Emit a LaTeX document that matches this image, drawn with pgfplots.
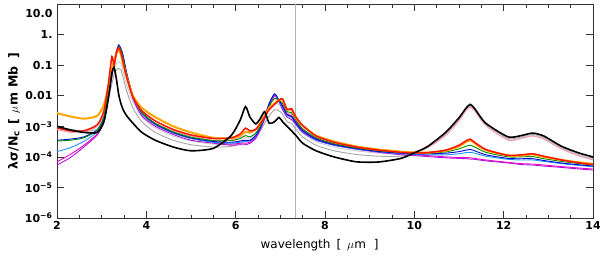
\documentclass[border=0pt]{standalone}
\usepackage{fontspec}
\setmainfont{DejaVu Sans}
\usepackage{pgfplots}
\usepackage{pgfplotstable}
\pgfplotsset{compat=1.18}

\definecolor{cOr}{RGB}{255,165,0}
\definecolor{cRd}{RGB}{255,20,0}
\definecolor{cPk}{RGB}{250,150,170}
\definecolor{cMg}{RGB}{235,0,200}
\definecolor{cPu}{RGB}{170,20,220}
\definecolor{cBl}{RGB}{0,0,220}
\definecolor{cLb}{RGB}{30,150,255}
\definecolor{cGn}{RGB}{0,140,0}
\definecolor{cGr}{RGB}{165,165,165}
\definecolor{cLg}{RGB}{205,205,205}

\pgfplotstableread{
x bk gr lg or rd pk mg pu bl lb gn
2.0 1.0e-3 9.5e-4 8.9e-4 2.7e-3 8.9e-4 7.9e-4 6.9e-5 5.4e-5 3.5e-4 1.48e-4 3.3e-4
2.3 7.6e-4 7.9e-4 7.1e-4 2.1e-3 7.1e-4 6.3e-4 1.2e-4 9.5e-5 3.8e-4 2.0e-4 3.5e-4
2.6 6.3e-4 7.1e-4 6.6e-4 1.78e-3 7.1e-4 6.3e-4 2.4e-4 2.1e-4 4.5e-4 3.2e-4 4.2e-4
2.9 6.3e-4 7.9e-4 7.9e-4 2.2e-3 1.12e-3 1.0e-3 5.6e-4 5.2e-4 7.6e-4 6.6e-4 7.4e-4
3.05 1.41e-3 2.0e-3 2.2e-3 5.0e-3 3.2e-3 2.5e-3 1.58e-3 1.41e-3 2.0e-3 1.78e-3 2.0e-3
3.15 7.9e-3 7.9e-3 1.0e-2 2.0e-2 2.5e-2 1.26e-2 1.0e-2 8.9e-3 1.12e-2 1.05e-2 1.26e-2
3.23 5.6e-2 2.5e-2 3.5e-2 7.9e-2 0.19 6.3e-2 5.0e-2 4.5e-2 5.6e-2 5.2e-2 6.3e-2
3.28 8.3e-2 5.0e-2 7.9e-2 0.14 0.1 0.126 0.126 0.12 0.13 0.126 0.14
3.33 3.5e-2 7.1e-2 0.11 0.25 0.25 0.22 0.25 0.24 0.28 0.27 0.28
3.38 1.12e-2 7.9e-2 0.13 0.32 0.38 0.32 0.38 0.35 0.46 0.42 0.4
3.43 5.6e-3 7.1e-2 0.11 0.22 0.26 0.28 0.32 0.32 0.35 0.34 0.32
3.48 3.5e-3 4.0e-2 6.3e-2 0.11 0.126 0.14 0.18 0.17 0.21 0.19 0.18
3.56 2.2e-3 1.41e-2 2.2e-2 4.0e-2 4.0e-2 4.5e-2 5.0e-2 4.5e-2 5.6e-2 5.2e-2 5.0e-2
3.7 1.26e-3 4.0e-3 6.3e-3 1.0e-2 9.0e-3 9.0e-3 9.0e-3 8.0e-3 1.0e-2 9.5e-3 9.5e-3
3.9 6.3e-4 1.41e-3 2.0e-3 4.0e-3 3.2e-3 2.8e-3 2.5e-3 2.2e-3 2.8e-3 2.6e-3 2.8e-3
4.2 3.5e-4 6.3e-4 8.9e-4 2.0e-3 1.5e-3 1.26e-3 1.12e-3 1.0e-3 1.2e-3 1.15e-3 1.26e-3
4.6 2.1e-4 3.5e-4 4.8e-4 1.0e-3 7.9e-4 7.1e-4 6.0e-4 5.4e-4 6.3e-4 6.0e-4 6.6e-4
5.0 1.58e-4 2.5e-4 3.3e-4 6.3e-4 5.2e-4 4.8e-4 4.0e-4 3.5e-4 4.2e-4 4.0e-4 4.4e-4
5.5 1.9e-4 2.1e-4 2.6e-4 4.2e-4 4.0e-4 3.5e-4 3.0e-4 2.8e-4 3.2e-4 3.0e-4 3.4e-4
5.9 5.0e-4 2.2e-4 2.6e-4 4.0e-4 4.2e-4 3.5e-4 2.6e-4 2.4e-4 3.0e-4 2.8e-4 3.4e-4
6.1 1.58e-3 2.8e-4 3.3e-4 5.0e-4 5.6e-4 4.5e-4 2.8e-4 2.5e-4 3.3e-4 3.0e-4 4.0e-4
6.22 4.4e-3 3.5e-4 4.4e-4 6.6e-4 8.7e-4 6.3e-4 2.8e-4 2.5e-4 3.5e-4 3.2e-4 5.0e-4
6.32 2.0e-3 3.5e-4 4.2e-4 6.3e-4 7.1e-4 6.0e-4 3.0e-4 2.8e-4 3.5e-4 3.3e-4 4.5e-4
6.45 1.2e-3 4.5e-4 5.6e-4 7.9e-4 7.9e-4 7.9e-4 4.5e-4 4.0e-4 5.0e-4 4.7e-4 6.0e-4
6.55 1.78e-3 7.1e-4 9.5e-4 1.26e-3 1.2e-3 1.41e-3 7.9e-4 7.6e-4 8.9e-4 8.5e-4 1.0e-3
6.65 3.0e-3 1.26e-3 1.9e-3 2.2e-3 2.0e-3 2.8e-3 1.78e-3 1.78e-3 2.0e-3 1.9e-3 2.0e-3
6.75 1.26e-3 2.2e-3 3.5e-3 4.0e-3 3.5e-3 5.0e-3 4.5e-3 5.0e-3 5.6e-3 5.4e-3 4.5e-3
6.87 1.41e-3 3.5e-3 5.6e-3 5.6e-3 5.2e-3 7.6e-3 1.0e-2 1.05e-2 1.15e-2 1.1e-2 8.3e-3
6.97 1.95e-3 3.2e-3 5.0e-3 7.1e-3 7.1e-3 6.3e-3 7.1e-3 6.3e-3 7.1e-3 6.8e-3 7.1e-3
7.05 1.41e-3 2.5e-3 3.8e-3 7.6e-3 7.9e-3 5.0e-3 4.5e-3 3.5e-3 4.5e-3 4.2e-3 5.6e-3
7.15 1.0e-3 1.41e-3 2.1e-3 3.5e-3 3.5e-3 2.8e-3 2.5e-3 2.0e-3 2.4e-3 2.3e-3 3.0e-3
7.25 7.1e-4 1.26e-3 1.9e-3 3.5e-3 3.8e-3 2.5e-3 2.2e-3 1.66e-3 2.1e-3 2.0e-3 2.8e-3
7.35 5.0e-4 7.9e-4 1.12e-3 1.9e-3 2.0e-3 1.58e-3 1.41e-3 1.12e-3 1.26e-3 1.2e-3 1.58e-3
7.5 2.8e-4 4.5e-4 6.0e-4 1.05e-3 1.07e-3 7.9e-4 7.6e-4 6.3e-4 7.1e-4 6.8e-4 8.3e-4
7.8 1.58e-4 2.4e-4 3.2e-4 5.0e-4 4.8e-4 4.0e-4 4.0e-4 3.5e-4 3.8e-4 3.6e-4 4.2e-4
8.2 1.0e-4 1.58e-4 2.1e-4 3.2e-4 3.0e-4 2.6e-4 2.6e-4 2.4e-4 2.5e-4 2.45e-4 2.7e-4
8.7 6.9e-5 1.2e-4 1.58e-4 2.2e-4 2.1e-4 1.9e-4 1.9e-4 1.78e-4 1.86e-4 1.82e-4 1.95e-4
9.2 6.8e-5 1.05e-4 1.32e-4 1.74e-4 1.66e-4 1.58e-4 1.5e-4 1.41e-4 1.5e-4 1.48e-4 1.58e-4
9.7 8.9e-5 1.05e-4 1.26e-4 1.48e-4 1.41e-4 1.41e-4 1.26e-4 1.17e-4 1.32e-4 1.26e-4 1.38e-4
10.0 1.35e-4 1.32e-4 1.41e-4 1.38e-4 1.35e-4 1.5e-4 1.17e-4 1.1e-4 1.26e-4 1.2e-4 1.32e-4
10.3 2.2e-4 2.0e-4 2.1e-4 1.38e-4 1.38e-4 2.0e-4 1.1e-4 1.02e-4 1.26e-4 1.17e-4 1.32e-4
10.7 6.3e-4 5.6e-4 5.2e-4 1.58e-4 1.66e-4 5.0e-4 1.0e-4 9.3e-5 1.32e-4 1.17e-4 1.45e-4
11.0 1.9e-3 1.7e-3 1.58e-3 2.2e-4 2.4e-4 1.5e-3 9.5e-5 8.9e-5 1.48e-4 1.26e-4 1.82e-4
11.15 3.8e-3 3.5e-3 3.3e-3 3.0e-4 3.3e-4 3.2e-3 9.5e-5 8.7e-5 1.66e-4 1.38e-4 2.2e-4
11.25 5.2e-3 4.7e-3 4.4e-3 3.5e-4 3.8e-4 4.2e-3 9.3e-5 8.5e-5 1.74e-4 1.41e-4 2.4e-4
11.35 3.8e-3 3.5e-3 3.3e-3 2.8e-4 3.0e-4 3.2e-3 8.9e-5 8.3e-5 1.58e-4 1.32e-4 2.1e-4
11.6 1.26e-3 1.15e-3 1.1e-3 1.66e-4 1.74e-4 1.05e-3 7.9e-5 7.4e-5 1.17e-4 1.05e-4 1.41e-4
12.1 4.5e-4 4.0e-4 3.7e-4 1.12e-4 1.12e-4 3.5e-4 6.6e-5 6.3e-5 8.9e-5 8.3e-5 1.0e-4
12.4 5.0e-4 4.5e-4 4.2e-4 1.12e-4 1.17e-4 4.0e-4 6.0e-5 5.6e-5 8.7e-5 7.9e-5 1.0e-4
12.65 6.0e-4 5.4e-4 5.0e-4 1.2e-4 1.26e-4 4.8e-4 5.8e-5 5.4e-5 8.7e-5 7.9e-5 1.02e-4
12.9 4.8e-4 4.3e-4 4.0e-4 1.0e-4 1.05e-4 3.8e-4 5.4e-5 5.0e-5 7.6e-5 7.1e-5 8.7e-5
13.3 2.2e-4 2.0e-4 1.9e-4 7.9e-5 7.9e-5 1.78e-4 4.8e-5 4.5e-5 6.3e-5 6.0e-5 7.1e-5
13.7 1.32e-4 1.17e-4 1.12e-4 6.6e-5 6.3e-5 1.05e-4 4.3e-5 4.0e-5 5.5e-5 5.2e-5 6.0e-5
14.0 1.0e-4 8.9e-5 8.5e-5 5.9e-5 5.6e-5 7.9e-5 4.0e-5 3.7e-5 5.0e-5 4.8e-5 5.4e-5
}\spec

\begin{document}
\begin{tikzpicture}
\begin{axis}[
  name=ax, at={(0,0)}, anchor=south west,
  scale only axis, width=536pt, height=214pt,
  xmin=2, xmax=14, ymode=log, ymin=1e-6, ymax=10,
  xtick={2,4,...,14}, minor x tick num=3,
  ytick={1e-6,1e-5,1e-4,1e-3,1e-2,1e-1,1,10},
  yticklabels={10\textsuperscript{−6},10\textsuperscript{−5},10\textsuperscript{−4},10\textsuperscript{−3},0.01,0.1,1.,\raisebox{-13pt}[0pt][0pt]{10.0}},
  yminorticks=false,
  tick align=inside, major tick length=7pt, minor tick length=3.5pt,
  axis line style={line width=0.9pt, black!80},
  every tick/.style={black!80, line width=0.7pt},
  tick label style={font=\fontsize{11}{11}\selectfont\bfseries},
  yticklabel style={xshift=-1pt},
  /pgf/number format/assume math mode=true,
  xlabel={wavelength\hspace{6pt}[\hspace{6pt}$\mu$m\hspace{8pt}]},
  ylabel={λσ/N\textsubscript{c}\hspace{6pt}[\hspace{6pt}$\mu$m\hspace{5pt}Mb\hspace{8pt}]},
  xlabel style={font=\fontsize{12}{12}\selectfont, at={(axis description cs:0.49,-0.126)}, anchor=center},
  ylabel style={font=\fontsize{12.5}{12.5}\selectfont\bfseries, at={(axis description cs:-0.080,0.5)}, anchor=center},
  clip=true,
]
\addplot[color=gray!60, line width=0.8pt] coordinates {(7.33,1e-6) (7.33,10)};
\addplot[cGr, line width=0.9pt, smooth, tension=0.4] table[y=gr]{\spec};
\addplot[cLg, line width=0.9pt, smooth, tension=0.4] table[y=lg]{\spec};
\addplot[cPk, line width=0.9pt, smooth, tension=0.4] table[y=pk]{\spec};
\addplot[cPu, line width=0.9pt, smooth, tension=0.4] table[y=pu]{\spec};
\addplot[cMg, line width=0.9pt, smooth, tension=0.4] table[y=mg]{\spec};
\addplot[cLb, line width=0.9pt, smooth, tension=0.4] table[y=lb]{\spec};
\addplot[cBl, line width=0.9pt, smooth, tension=0.4] table[y=bl]{\spec};
\addplot[cGn, line width=0.9pt, smooth, tension=0.4] table[y=gn]{\spec};
\addplot[cOr, line width=2pt, smooth, tension=0.4] table[y=or]{\spec};
\addplot[cRd, line width=1.5pt, smooth, tension=0.4] table[y=rd]{\spec};
\addplot[black, line width=1.6pt, smooth, tension=0.4] table[y=bk]{\spec};
\end{axis}
\pgfresetboundingbox
\path[use as bounding box] ([shift={(-57pt,-39pt)}]ax.south west) rectangle ([shift={(7pt,4pt)}]ax.north east);
\end{tikzpicture}
\end{document}
